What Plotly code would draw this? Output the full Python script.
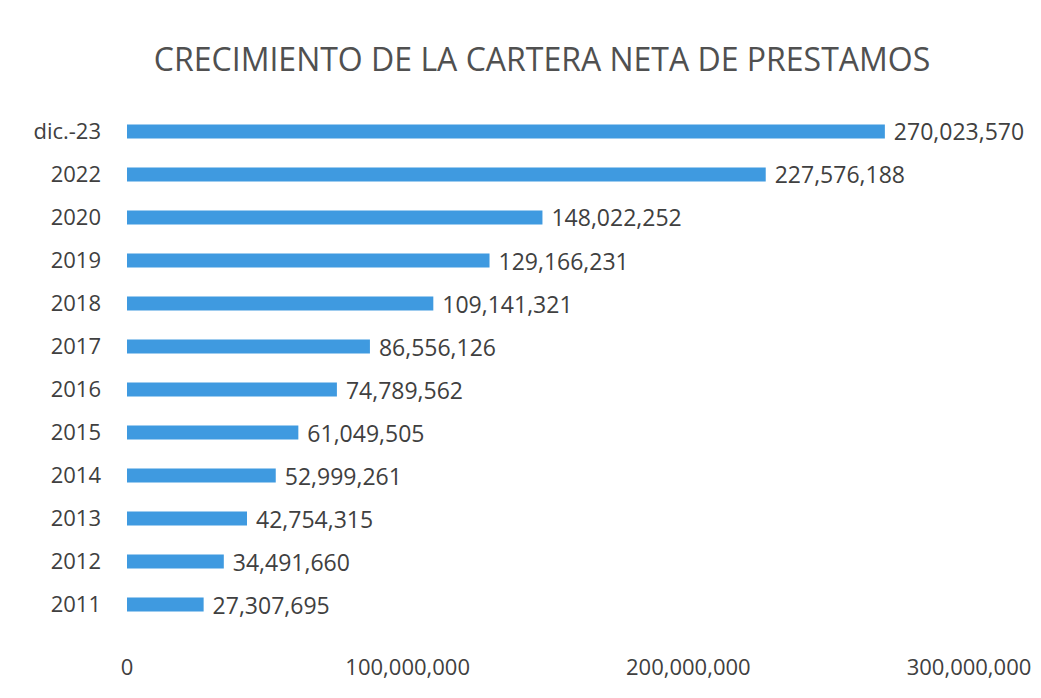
import plotly.graph_objects as go

categories = ["2011", "2012", "2013", "2014", "2015", "2016", "2017", "2018", "2019", "2020", "2022", "dic.-23"]
values = [27307695, 34491660, 42754315, 52999261, 61049505, 74789562, 86556126, 109141321, 129166231, 148022252, 227576188, 270023570]
tick_vals = [0, 100000000, 200000000, 300000000]
tick_text = ["0", "100,000,000", "200,000,000", "300,000,000"]
title_text = "CRECIMIENTO DE LA CARTERA NETA DE PRESTAMOS"

font_family = "Open Sans"
text_color = "#404040"

fig = go.Figure(go.Bar(
    x=values,
    y=categories,
    orientation="h",
    marker=dict(color="#3f9ae0", line=dict(width=0)),
    text=["\u00a0" + f"{v:,}" for v in values],
    textposition="outside",
    constraintext="none",
    textfont=dict(family=font_family, size=23, color=text_color),
    cliponaxis=False,
))

fig.update_layout(
    width=1033,
    height=690,
    paper_bgcolor="white",
    plot_bgcolor="white",
    margin=dict(l=119, r=72, t=102, b=72),
    bargap=0.67,
    title=dict(
        text=title_text,
        x=0.517,
        xanchor="center",
        y=0.925,
        yanchor="middle",
        font=dict(family=font_family, size=32, color="#505050"),
    ),
    xaxis=dict(
        range=[0, 300000000],
        tickvals=tick_vals,
        ticktext=tick_text,
        showgrid=False,
        zeroline=False,
        showline=False,
        automargin=False,
        tickfont=dict(family=font_family, size=22, color=text_color),
        ticklabelstandoff=26,
    ),
    yaxis=dict(
        showgrid=False,
        showline=False,
        automargin=False,
        tickfont=dict(family=font_family, size=22, color=text_color),
        ticklabelstandoff=25,
        categoryorder="array",
        categoryarray=categories,
    ),
    showlegend=False,
)

fig.write_html("out.html")
